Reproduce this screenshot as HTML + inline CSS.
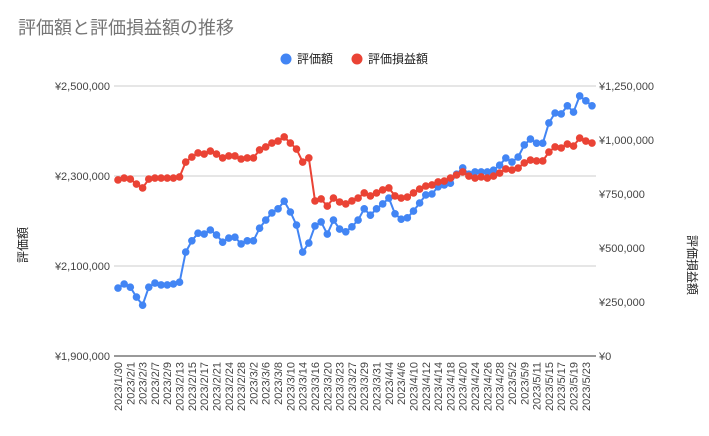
<!DOCTYPE html>
<html><head><meta charset="utf-8"><style>
body{margin:0;background:#fff;}
svg{display:block;font-family:"Liberation Sans","Noto Sans CJK JP",sans-serif;}
</style></head><body>
<svg id="chart" width="709" height="436" viewBox="0 0 709 436">
<text x="18" y="34" font-size="18" fill="#757575">評価額と評価損益額の推移</text>
<g>
<circle cx="286" cy="59" r="5.5" fill="#4285f4"/>
<text x="297" y="63" font-size="12" fill="#222">評価額</text>
<circle cx="357" cy="59" r="5.5" fill="#ea4335"/>
<text x="368" y="63" font-size="12" fill="#222">評価損益額</text>
</g>
<text transform="translate(27,245) rotate(-90)" text-anchor="middle" font-size="12" fill="#222">評価額</text>
<text transform="translate(688,265) rotate(90)" text-anchor="middle" font-size="12" fill="#222">評価損益額</text>
<g id="grid"></g><g id="axes"></g><g id="series"></g>
</svg>
<script>
const categories = ["2023/1/30","2023/1/31","2023/2/1","2023/2/2","2023/2/3","2023/2/6","2023/2/7","2023/2/8","2023/2/9","2023/2/10","2023/2/13","2023/2/14","2023/2/15","2023/2/16","2023/2/17","2023/2/20","2023/2/21","2023/2/22","2023/2/24","2023/2/27","2023/2/28","2023/3/1","2023/3/2","2023/3/3","2023/3/6","2023/3/7","2023/3/8","2023/3/9","2023/3/10","2023/3/13","2023/3/14","2023/3/15","2023/3/16","2023/3/17","2023/3/20","2023/3/22","2023/3/23","2023/3/24","2023/3/27","2023/3/28","2023/3/29","2023/3/30","2023/3/31","2023/4/3","2023/4/4","2023/4/5","2023/4/6","2023/4/7","2023/4/10","2023/4/11","2023/4/12","2023/4/13","2023/4/14","2023/4/17","2023/4/18","2023/4/19","2023/4/20","2023/4/21","2023/4/24","2023/4/25","2023/4/26","2023/4/27","2023/4/28","2023/5/1","2023/5/2","2023/5/8","2023/5/9","2023/5/10","2023/5/11","2023/5/12","2023/5/15","2023/5/16","2023/5/17","2023/5/18","2023/5/19","2023/5/22","2023/5/23","2023/5/24"];
const valueSeries = [2051000,2060000,2053000,2031000,2013000,2053000,2062000,2058000,2058000,2060000,2064000,2131000,2156000,2173000,2171000,2180000,2169000,2153000,2162000,2164000,2149000,2156000,2156000,2184000,2202000,2218000,2227000,2244000,2220000,2191000,2131000,2151000,2189000,2198000,2171000,2202000,2182000,2176000,2187000,2202000,2227000,2213000,2227000,2238000,2251000,2216000,2204000,2207000,2222000,2240000,2258000,2260000,2276000,2280000,2284000,2304000,2318000,2304000,2309000,2309000,2309000,2313000,2324000,2340000,2331000,2342000,2369000,2382000,2373000,2373000,2418000,2440000,2438000,2456000,2442000,2478000,2467000,2456000];
const profitSeries = [815000,824000,819000,796000,778000,819000,824000,824000,824000,824000,829000,898000,921000,940000,935000,949000,935000,917000,926000,926000,912000,917000,917000,954000,968000,986000,995000,1014000,986000,958000,898000,917000,718000,727000,694000,731000,713000,704000,718000,731000,755000,741000,755000,769000,778000,741000,731000,736000,755000,773000,787000,792000,806000,810000,824000,838000,852000,833000,824000,829000,824000,833000,847000,866000,861000,870000,894000,907000,903000,903000,944000,968000,963000,981000,972000,1009000,995000,986000];
const leftTicks = [1900000,2100000,2300000,2500000];
const leftTickLabels = ["¥1,900,000","¥2,100,000","¥2,300,000","¥2,500,000"];
const rightTicks = [0,250000,500000,750000,1000000,1250000];
const rightTickLabels = ["¥0","¥250,000","¥500,000","¥750,000","¥1,000,000","¥1,250,000"];

const NS="http://www.w3.org/2000/svg";
const X0=118,X1=592,YT=86,YB=356;
const xS=i=>X0+(X1-X0)*i/(categories.length-1);
const yL=v=>YB-(v-1900000)/600000*(YB-YT);
const yR=v=>YB-v/1250000*(YB-YT);
function mk(tag,attrs,parent){const e=document.createElementNS(NS,tag);for(const k in attrs)e.setAttribute(k,attrs[k]);parent.appendChild(e);return e;}
const grid=document.getElementById('grid'),axes=document.getElementById('axes'),series=document.getElementById('series');
leftTicks.forEach((t,i)=>{
  const y=yL(t);
  const l=mk('line',{x1:X0-4,x2:X1+4,y1:y,y2:y,stroke:i===0?'#333':'#ccc','stroke-width':1},grid);
  
  
  const tx=mk('text',{x:110,y:y+4,'text-anchor':'end','font-size':11,fill:'#444'},axes);
  tx.textContent=leftTickLabels[i];
  
  
});
rightTicks.forEach((t,i)=>{
  const tx=mk('text',{x:599,y:yR(t)+4,'font-size':11,fill:'#444'},axes);
  tx.textContent=rightTickLabels[i];
  
  
});
categories.forEach((c,i)=>{
  if(i%2) return;
  const x=xS(i);
  const tx=mk('text',{transform:`translate(${x+4},362) rotate(-90)`,'text-anchor':'end','font-size':11,fill:'#444'},axes);
  tx.textContent=c;
  
  
});
function draw(vals,yf,color,name){
  const g=mk('g',{},series);
  
  
  const p=mk('path',{d:vals.map((v,i)=>(i?'L':'M')+xS(i).toFixed(1)+' '+yf(v).toFixed(1)).join(''),fill:'none',stroke:color,'stroke-width':2},g);
  
  
  vals.forEach((v,i)=>{
    const c=mk('circle',{cx:xS(i),cy:yf(v),r:3.8,fill:color},g);
    
    
  });
}
draw(valueSeries,yL,'#4285f4','value');
draw(profitSeries,yR,'#ea4335','profit');
</script>
</body></html>
